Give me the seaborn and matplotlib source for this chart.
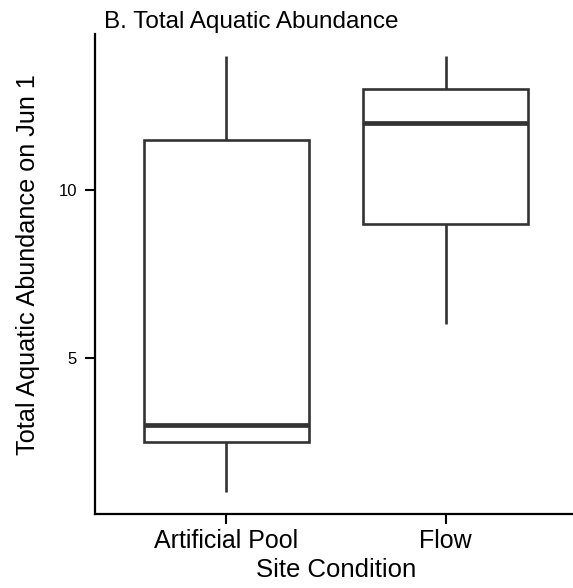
import matplotlib
matplotlib.use("Agg")
import matplotlib.pyplot as plt
import seaborn as sns
import pandas as pd

# Data (values chosen so the five-number summaries match the reference)
sites = ["Artificial Pool", "Flow"]
artificial_pool = [1, 2.5, 3, 11.5, 14]
flow = [6, 9, 12, 13, 14]
y_ticks = [5, 10]

df = pd.DataFrame({
    "Site Condition": [sites[0]] * len(artificial_pool) + [sites[1]] * len(flow),
    "Abundance": artificial_pool + flow,
})

sns.set_style("white")
plt.rcParams["font.family"] = ["Liberation Sans", "DejaVu Sans"]
plt.rcParams["text.color"] = "black"
plt.rcParams["axes.labelcolor"] = "black"
plt.rcParams["xtick.color"] = "black"
plt.rcParams["ytick.color"] = "black"

fig = plt.figure(figsize=(5.73, 5.88), dpi=100)
ax = fig.add_axes([95 / 573, (588 - 514) / 588, 482 / 573, 480 / 588])

sns.boxplot(
    data=df, x="Site Condition", y="Abundance", order=sites,
    width=0.75, color="white", linecolor="#333333", linewidth=1.9,
    showcaps=False, fliersize=0, whis=1.5,
    medianprops=dict(linewidth=3.4, color="#333333"),
    ax=ax,
)

ax.set_xlim(-0.6, 1.6)
ax.set_ylim(0.35, 14.65)
ax.set_yticks(y_ticks)

for side in ["top", "right"]:
    ax.spines[side].set_visible(False)
for side in ["left", "bottom"]:
    ax.spines[side].set_color("black")
    ax.spines[side].set_linewidth(1.6)

ax.tick_params(axis="both", which="major", length=7, width=1.5, color="black",
               direction="out", left=True, bottom=True)
ax.tick_params(axis="y", labelsize=12, pad=6, labelcolor="black")
ax.tick_params(axis="x", labelsize=18, pad=4, labelcolor="black")

ax.set_xlabel("Site Condition", fontsize=18.5, va="center", color="black")
ax.xaxis.set_label_coords(0.5, -0.117)
ax.set_ylabel("Total Aquatic Abundance on Jun 1", fontsize=18.2, va="center", color="black")
ax.yaxis.set_label_coords(-0.14, 0.52)

fig.text(104 / 573, 1 - 28 / 588, "B. Total Aquatic Abundance",
         fontsize=17.5, ha="left", va="baseline", color="black")

fig.savefig("out.png", dpi=100)
